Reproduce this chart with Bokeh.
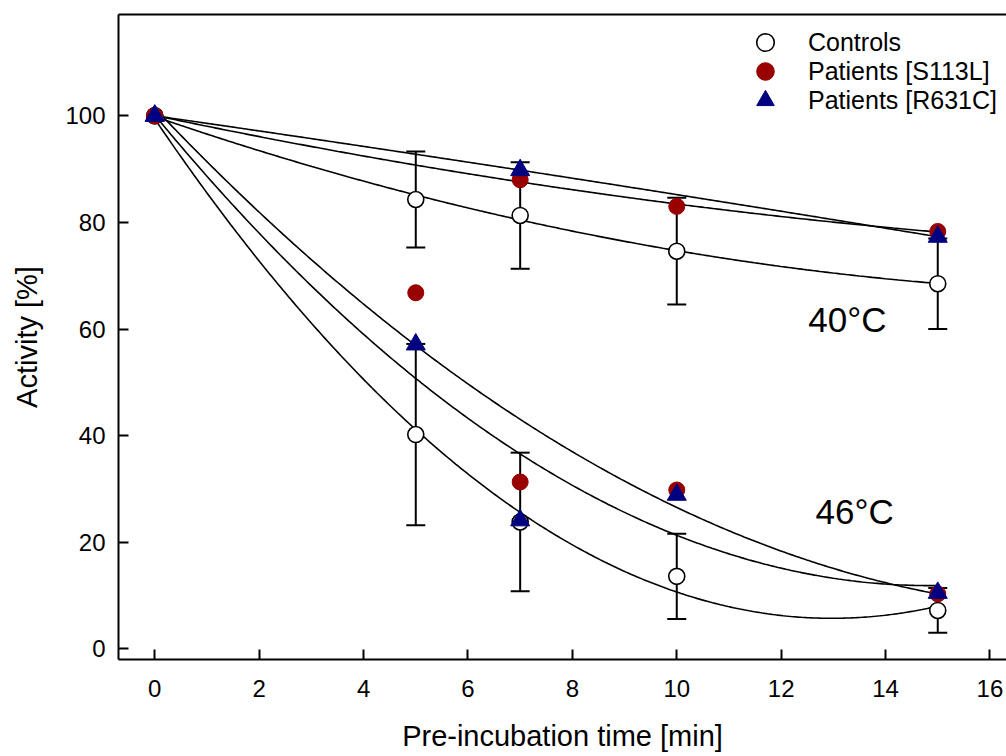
import numpy as np
from bokeh.plotting import figure
from bokeh.models import (ColumnDataSource, Whisker, TeeHead, Label, LinearAxis,
                          Legend, LegendItem, FixedTicker)
from bokeh.embed import file_html
from bokeh.resources import INLINE

# ---- data ----
time_ctrl = [0, 5, 7, 10, 15]
ctrl_40 = [100, 84.3, 81.3, 74.6, 68.5]
ctrl_40_sd = [0, 9.0, 10.0, 10.0, 8.5]
ctrl_46 = [100, 40.2, 23.8, 13.6, 7.2]
ctrl_46_sd = [0, 17.0, 13.0, 8.0, 4.2]

time_s113l_40 = [0, 7, 10, 15]
s113l_40 = [100, 88.0, 83.0, 78.3]
time_s113l_46 = [0, 5, 7, 10, 15]
s113l_46 = [100, 66.8, 31.3, 29.8, 10.3]

time_r631c_40 = [0, 7, 15]
r631c_40 = [100, 89.8, 77.3]
time_r631c_46 = [0, 5, 7, 10, 15]
r631c_46 = [100, 57.1, 24.1, 28.9, 10.5]

x_ticks = [0, 2, 4, 6, 8, 10, 12, 14, 16]
y_ticks = [0, 20, 40, 60, 80, 100]
temp_labels = ["40°C", "46°C"]
legend_labels = ["Controls", "Patients [S113L]", "Patients [R631C]"]

FONT = "Liberation Sans"
RED = "#990000"
NAVY = "#000080"

p = figure(width=1006, height=756, output_backend="svg", toolbar_location=None,
           x_range=(-0.695, 16.317), y_range=(-2.0, 119.0),
           min_border_left=118, min_border_right=0, min_border_top=14,
           min_border_bottom=97)
p.outline_line_color = None
p.xgrid.visible = False
p.ygrid.visible = False
p.background_fill_color = "white"
p.border_fill_color = "white"

for ax in (p.xaxis[0], p.yaxis[0]):
    ax.axis_line_width = 2
    ax.axis_line_color = "black"
    ax.major_tick_in = 10
    ax.major_tick_out = 0
    ax.major_tick_line_width = 2
    ax.minor_tick_line_color = None
    ax.major_label_text_font = FONT
    ax.major_label_text_font_size = "24px"
    ax.major_label_text_color = "black"
    ax.axis_label_text_font = FONT
    ax.axis_label_text_font_size = "29px"
    ax.axis_label_text_font_style = "normal"
    ax.axis_label_text_color = "black"

p.xaxis.ticker = FixedTicker(ticks=x_ticks)
p.yaxis.ticker = FixedTicker(ticks=y_ticks)
p.xaxis.axis_label = "Pre-incubation time [min]"
p.yaxis.axis_label = "Activity [%]"
p.xaxis.major_label_standoff = 20
p.yaxis.major_label_standoff = 13
p.xaxis.axis_label_standoff = 20
p.yaxis.axis_label_standoff = 19

top = LinearAxis(ticker=FixedTicker(ticks=[]), major_tick_line_color=None,
                 minor_tick_line_color=None, axis_line_width=2,
                 axis_line_color="black", major_label_standoff=0)
p.add_layout(top, "above")

# ---- error bars (controls) ----
def whisker_source(xs, ys, sds):
    b, u, l = [], [], []
    for x, y, s in zip(xs, ys, sds):
        if s > 0:
            b.append(x); u.append(y + s); l.append(y - s)
    return ColumnDataSource(dict(base=b, upper=u, lower=l))

for ys, sds in ((ctrl_40, ctrl_40_sd), (ctrl_46, ctrl_46_sd)):
    w = Whisker(source=whisker_source(time_ctrl, ys, sds), base="base",
                upper="upper", lower="lower", line_width=2, line_color="black",
                upper_head=TeeHead(size=19, line_width=2, line_color="black"),
                lower_head=TeeHead(size=19, line_width=2, line_color="black"),
                level="underlay")
    p.add_layout(w)

# ---- quadratic regression curves ----
xx = np.linspace(0, 15, 300)
for xs, ys in ((time_ctrl, ctrl_40), (time_s113l_40, s113l_40),
               (time_r631c_40, r631c_40), (time_ctrl, ctrl_46),
               (time_s113l_46, s113l_46), (time_r631c_46, r631c_46)):
    coef = np.polyfit(xs, ys, 2)
    p.line(xx, np.polyval(coef, xx), line_color="black", line_width=1.6)

# ---- markers ----
r_ctrl = p.scatter(time_ctrl + time_ctrl, ctrl_40 + ctrl_46, marker="circle",
                   size=16, fill_color="white", line_color="black", line_width=1.6)
r_s = p.scatter(time_s113l_40 + time_s113l_46, s113l_40 + s113l_46, marker="circle",
                size=16, fill_color=RED, line_color=RED, line_width=1)
r_r = p.scatter(time_r631c_40 + time_r631c_46, r631c_40 + r631c_46, marker="triangle",
                size=19, fill_color=NAVY, line_color=NAVY, line_width=1)

# one single-item legend per row so that the symbols can be large while rows stay close
for label, rend, ypos in zip(legend_labels, (r_ctrl, r_s, r_r), (595, 566, 537)):
    lg = Legend(items=[LegendItem(label=label, renderers=[rend])],
                location=(625, ypos), border_line_color=None,
                background_fill_alpha=0, padding=0, spacing=0, margin=0,
                glyph_width=44, glyph_height=44, label_height=44,
                label_standoff=21, label_text_font=FONT,
                label_text_font_size="25px", label_text_color="black")
    p.add_layout(lg)

p.add_layout(Label(x=12.52, y=58.2, text=temp_labels[0], text_font=FONT,
                   text_font_size="35px", text_color="black"))
p.add_layout(Label(x=12.66, y=22.2, text=temp_labels[1], text_font=FONT,
                   text_font_size="35px", text_color="black"))

open("out.html", "w").write(file_html(p, INLINE))
